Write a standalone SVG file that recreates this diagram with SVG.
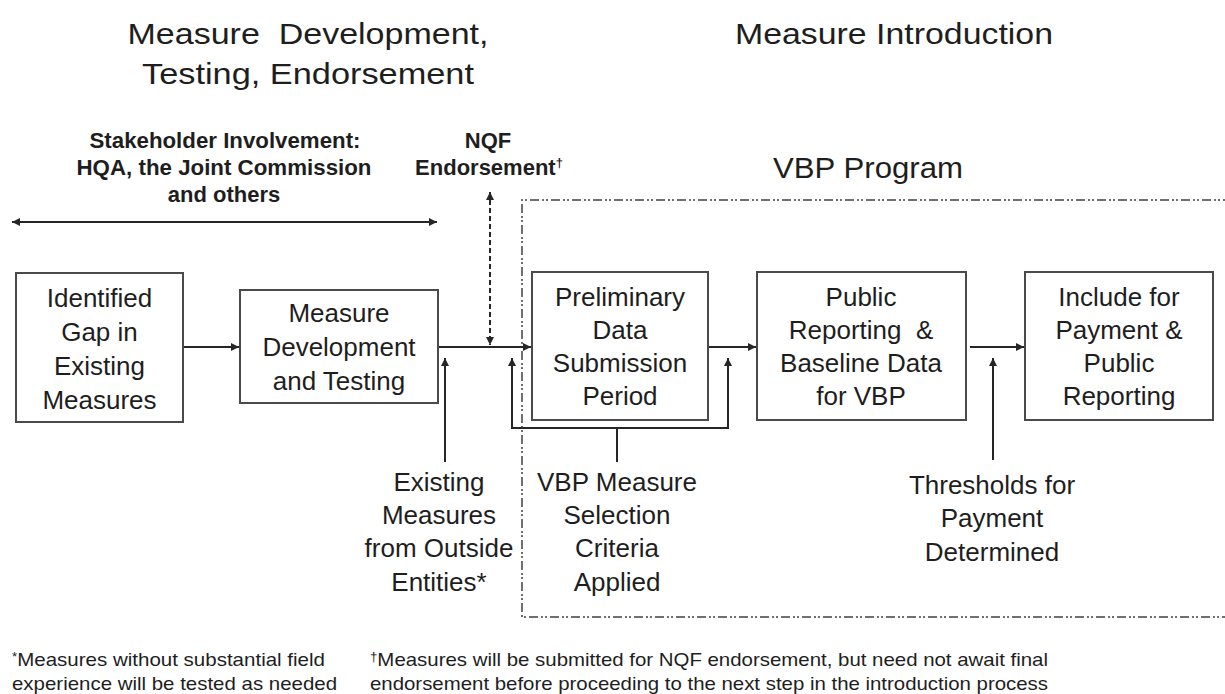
<svg xmlns="http://www.w3.org/2000/svg" width="1225" height="694" viewBox="0 0 1225 694">
<style>
text{font-family:"Liberation Sans",Arial,sans-serif;fill:#1e1e1e;text-anchor:middle}
.title{font-size:30px}
.sub{font-size:30px}
.stk{font-size:22px;font-weight:bold}
.box{fill:#fff;stroke:#4a4a4a;stroke-width:2}
.bt{font-size:26px}
.fn{font-size:18.5px;text-anchor:start}
.ln{fill:none;stroke:#262626;stroke-width:2}
.dash{fill:none;stroke:#262626;stroke-width:2;stroke-dasharray:5,3}
.region{fill:none;stroke:#707070;stroke-width:2;stroke-dasharray:9,3,2,2,2,3}
</style>
<defs>
<marker id="ah" viewBox="0 0 10 10" refX="10" refY="5" markerWidth="10" markerHeight="8" markerUnits="userSpaceOnUse" orient="auto-start-reverse">
<path d="M0,0 L10,5 L0,10 z" fill="#262626"/>
</marker>
</defs>

<g id="titles">
<text class="title" x="308" y="44" textLength="361" lengthAdjust="spacingAndGlyphs" xml:space="preserve">Measure  Development,</text>
<text class="title" x="308" y="84" textLength="332" lengthAdjust="spacingAndGlyphs">Testing, Endorsement</text>
<text class="title" x="894" y="44" textLength="318" lengthAdjust="spacingAndGlyphs">Measure Introduction</text>
<text class="sub" x="868" y="178" textLength="190" lengthAdjust="spacingAndGlyphs">VBP Program</text>
</g>

<g id="stakeholder">
<text class="stk" x="225" y="148" textLength="271" lengthAdjust="spacingAndGlyphs">Stakeholder Involvement:</text>
<text class="stk" x="224" y="175" textLength="295" lengthAdjust="spacingAndGlyphs">HQA, the Joint Commission</text>
<text class="stk" x="224" y="202">and others</text>
</g>

<g id="nqf">
<text class="stk" x="488" y="148">NQF</text>
<text class="stk" x="489" y="175">Endorsement<tspan font-size="13" dy="-8">†</tspan></text>
</g>

<g id="vbp-region">
<path class="region" d="M1232,200 H522 V617 H1232"/>
</g>

<g id="connectors">
<path class="ln" d="M12,222 H437" marker-start="url(#ah)" marker-end="url(#ah)"/>
<path class="dash" d="M490,192 V345" marker-start="url(#ah)" marker-end="url(#ah)"/>
<path class="ln" d="M183,347 H239" marker-end="url(#ah)"/>
<path class="ln" d="M438,347 H531" marker-end="url(#ah)"/>
<path class="ln" d="M708,347 H756" marker-end="url(#ah)"/>
<path class="ln" d="M970,347 H1024" marker-end="url(#ah)"/>
<path class="ln" d="M445,462 V358" marker-end="url(#ah)"/>
<path class="ln" d="M512,358 V428 H728 V358" marker-start="url(#ah)" marker-end="url(#ah)"/>
<path class="ln" d="M617,462 V428"/>
<path class="ln" d="M993,460 V358" marker-end="url(#ah)"/>
</g>

<g id="node-gap">
<rect class="box" x="16" y="273" width="167" height="149"/>
<text class="bt" x="99.5" y="307">Identified</text>
<text class="bt" x="99.5" y="341">Gap in</text>
<text class="bt" x="99.5" y="375">Existing</text>
<text class="bt" x="99.5" y="409">Measures</text>
</g>

<g id="node-dev">
<rect class="box" x="240" y="290" width="198" height="113"/>
<text class="bt" x="339" y="322">Measure</text>
<text class="bt" x="339" y="356">Development</text>
<text class="bt" x="339" y="390">and Testing</text>
</g>

<g id="node-prelim">
<rect class="box" x="532" y="272" width="176" height="148"/>
<text class="bt" x="620" y="306">Preliminary</text>
<text class="bt" x="620" y="339">Data</text>
<text class="bt" x="620" y="372">Submission</text>
<text class="bt" x="620" y="405">Period</text>
</g>

<g id="node-public">
<rect class="box" x="757" y="272" width="209" height="148"/>
<text class="bt" x="861" y="306">Public</text>
<text class="bt" x="861" y="339" xml:space="preserve">Reporting  &amp;</text>
<text class="bt" x="861" y="372">Baseline Data</text>
<text class="bt" x="861" y="405">for VBP</text>
</g>

<g id="node-include">
<rect class="box" x="1025" y="272" width="188" height="148"/>
<text class="bt" x="1119" y="306">Include for</text>
<text class="bt" x="1119" y="339">Payment &amp;</text>
<text class="bt" x="1119" y="372">Public</text>
<text class="bt" x="1119" y="405">Reporting</text>
</g>

<g id="label-existing">
<text class="bt" x="439" y="491">Existing</text>
<text class="bt" x="439" y="524">Measures</text>
<text class="bt" x="439" y="557">from Outside</text>
<text class="bt" x="439" y="591">Entities*</text>
</g>

<g id="label-criteria">
<text class="bt" x="617" y="491">VBP Measure</text>
<text class="bt" x="617" y="524">Selection</text>
<text class="bt" x="617" y="557">Criteria</text>
<text class="bt" x="617" y="591">Applied</text>
</g>

<g id="label-thresholds">
<text class="bt" x="992" y="494">Thresholds for</text>
<text class="bt" x="992" y="527">Payment</text>
<text class="bt" x="992" y="561">Determined</text>
</g>

<g id="footnotes">
<text class="fn" x="12" y="666" textLength="313" lengthAdjust="spacingAndGlyphs"><tspan font-size="12" dy="-5">*</tspan><tspan dy="5">Measures without substantial field</tspan></text>
<text class="fn" x="12" y="690" textLength="325" lengthAdjust="spacingAndGlyphs">experience will be tested as needed</text>
<text class="fn" x="370" y="666" textLength="678" lengthAdjust="spacingAndGlyphs"><tspan font-size="12" dy="-5">†</tspan><tspan dy="5">Measures will be submitted for NQF endorsement, but need not await final</tspan></text>
<text class="fn" x="370" y="690" textLength="678" lengthAdjust="spacingAndGlyphs">endorsement before proceeding to the next step in the introduction process</text>
</g>
</svg>
